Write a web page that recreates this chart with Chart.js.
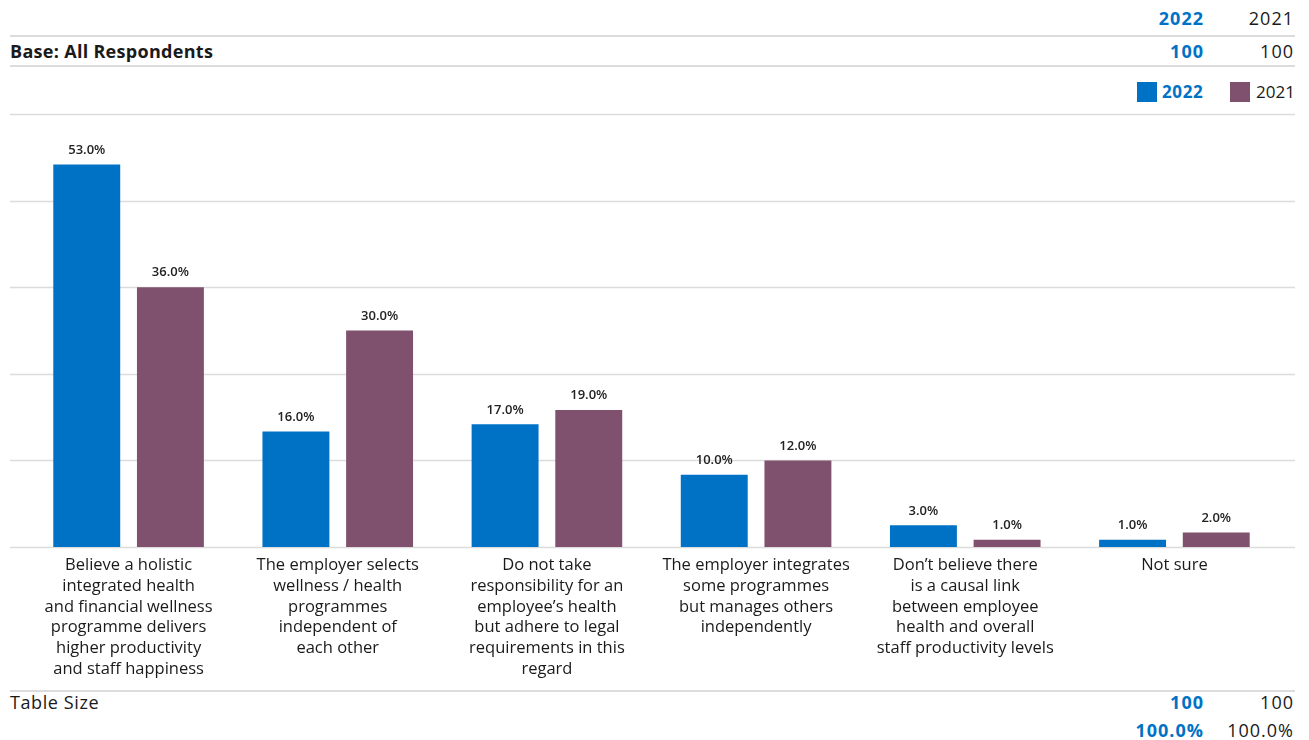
<!DOCTYPE html>
<html>
<head>
<meta charset="utf-8">
<script src="https://cdn.jsdelivr.net/npm/chart.js@4.4.1/dist/chart.umd.min.js"></script>
<style>
  body { margin: 0; background: #fff; font-family: "Open Sans", sans-serif; color: #1a1a1a; }
  .page { position: relative; width: 1309px; height: 740px; overflow: hidden; }
  .row { position: absolute; left: 10px; width: 1285px; height: 28px; font-size: 18px; letter-spacing: 0.6px; }
  .row .label { position: absolute; left: 0; top: 0; white-space: nowrap; }
  .row .v22 { position: absolute; right: 91px; top: 0; color: #0072c6; font-weight: 700; letter-spacing: 1px; }
  .row .v21 { position: absolute; right: 1px; top: 0; letter-spacing: 1px; }
  .bold { font-weight: 700; }
  .hline { position: absolute; left: 10px; width: 1285px; height: 0; border-top: 2px solid #dcdcdc; }
  .legend { position: absolute; top: 81px; left: 1137px; font-size: 17px; }
  .legend span { position: absolute; top: -1px; white-space: nowrap; }
  .sw { display: inline-block; width: 20px; height: 20px; position: absolute; top: 1px; }
  #wrap { position: absolute; left: 0; top: 100px; width: 1309px; height: 590px; }
</style>
</head>
<body>
<div class="page">
  <div class="row" style="top:6px"><span class="v22">2022</span><span class="v21">2021</span></div>
  <div class="hline" style="top:35px"></div>
  <div class="row" style="top:39px"><span class="label bold" style="letter-spacing:0.3px">Base: All Respondents</span><span class="v22">100</span><span class="v21">100</span></div>
  <div class="hline" style="top:65px"></div>
  <div class="legend" id="legend"></div>
  <div id="wrap"><canvas id="chart"></canvas></div>
  <div class="hline" style="top:690px"></div>
  <div class="row" style="top:690px"><span class="label">Table Size</span><span class="v22">100</span><span class="v21">100</span></div>
  <div class="row" style="top:718px"><span class="v22">100.0%</span><span class="v21">100.0%</span></div>
</div>
<script>
const categories = [
  ['Believe a holistic', 'integrated health', 'and financial wellness', 'programme delivers', 'higher productivity', 'and staff happiness'],
  ['The employer selects', 'wellness / health', 'programmes', 'independent of', 'each other'],
  ['Do not take', 'responsibility for an', 'employee\u2019s health', 'but adhere to legal', 'requirements in this', 'regard'],
  ['The employer integrates', 'some programmes', 'but manages others', 'independently'],
  ['Don\u2019t believe there', 'is a causal link', 'between employee', 'health and overall', 'staff productivity levels'],
  ['Not sure']
];
const values2022 = [53, 16, 17, 10, 3, 1];
const values2021 = [36, 30, 19, 12, 1, 2];
const yTicks = [0, 12, 24, 36, 48, 60];

const blue = '#0072c6';
const purple = '#80516f';

// legend in html
document.getElementById('legend').innerHTML =
  '<i class="sw" style="left:0;background:' + blue + '"></i>' +
  '<span style="left:25px;color:' + blue + ';font-weight:700;letter-spacing:0.6px">2022</span>' +
  '<i class="sw" style="left:93px;background:' + purple + '"></i>' +
  '<span style="left:119px">2021</span>';

// grid lines across the full width, under the bars
const fullGrid = {
  id: 'fullGrid',
  beforeDatasetsDraw(chart) {
    const ctx = chart.ctx;
    const y = chart.scales.y;
    ctx.save();
    ctx.strokeStyle = '#dcdcdc';
    ctx.lineWidth = 1.5;
    yTicks.forEach(t => {
      const py = Math.round(y.getPixelForValue(t)) + 0.5;
      ctx.beginPath();
      ctx.moveTo(10, py);
      ctx.lineTo(1295, py);
      ctx.stroke();
    });
    ctx.restore();
  }
};

// value labels above each bar
const barLabels = {
  id: 'barLabels',
  afterDatasetsDraw(chart) {
    const ctx = chart.ctx;
    ctx.save();
    ctx.font = '600 13px "Open Sans"';
    ctx.fillStyle = '#222';
    ctx.textAlign = 'center';
    ctx.textBaseline = 'bottom';
    chart.data.datasets.forEach((ds, i) => {
      chart.getDatasetMeta(i).data.forEach((bar, j) => {
        ctx.fillText(ds.data[j].toFixed(1) + '%', bar.x, bar.y - 8);
      });
    });
    ctx.restore();
  }
};

new Chart(document.getElementById('chart'), {
  type: 'bar',
  data: {
    labels: categories,
    datasets: [
      { label: '2022', data: values2022, backgroundColor: blue, barPercentage: 0.8 },
      { label: '2021', data: values2021, backgroundColor: purple, barPercentage: 0.8 }
    ]
  },
  options: {
    responsive: true,
    maintainAspectRatio: false,
    animation: false,
    layout: { padding: { top: 14, left: 24, right: 30, bottom: 0 } },
    plugins: { legend: { display: false }, tooltip: { enabled: false } },
    scales: {
      x: {
        grid: { display: false, drawTicks: false },
        border: { display: false },
        ticks: {
          color: '#1a1a1a',
          padding: 8,
          autoSkip: false,
          maxRotation: 0,
          font: { family: 'Open Sans', size: 16.5, lineHeight: 1.26 }
        },
        afterFit: s => { s.height = 143; }
      },
      y: {
        display: false,
        min: 0,
        max: 60
      }
    }
  },
  plugins: [fullGrid, barLabels]
});
</script>
</body>
</html>
